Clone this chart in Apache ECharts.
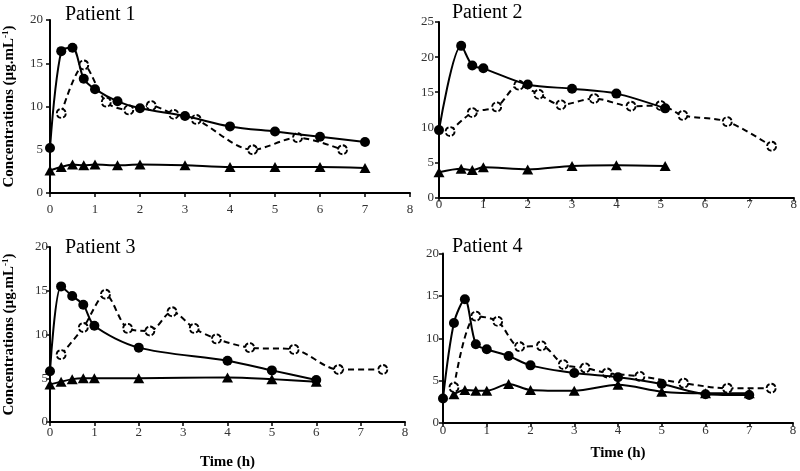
<!DOCTYPE html>
<html>
<head>
<meta charset="utf-8">
<script src="https://cdn.jsdelivr.net/npm/echarts@6/dist/echarts.min.js"></script>
<style>html,body{margin:0;padding:0;background:#fff}#c{width:800px;height:471px}</style>
</head>
<body>
<div id="c"></div>
<script>
// ---- Data ----
const p1FilledTime = [0,0.25,0.5,0.75,1,1.5,2,3,4,5,6,7];
const p1Filled     = [5.2,16.4,16.8,13.2,12.0,10.6,9.8,8.9,7.7,7.1,6.5,5.9];
const p1OpenTime   = [0.25,0.75,1.25,1.75,2.25,2.75,3.25,4.5,5.5,6.5];
const p1Open       = [9.2,14.8,10.5,9.6,10.1,9.1,8.5,5.0,6.4,5.0];
const p1TriTime    = [0,0.25,0.5,0.75,1,1.5,2,3,4,5,6,7];
const p1Tri        = [2.6,3.0,3.3,3.2,3.3,3.2,3.3,3.2,3.0,3.0,3.0,2.9];

const p2FilledTime = [0,0.5,0.75,1,2,3,4,5.1];
const p2Filled     = [9.6,21.6,18.8,18.4,16.1,15.5,14.8,12.7];
const p2OpenTime   = [0.25,0.75,1.3,1.8,2.25,2.75,3.5,4.33,5,5.5,6.5,7.5];
const p2Open       = [9.4,12.1,12.9,16.0,14.7,13.2,14.1,13.0,13.1,11.7,10.8,7.3];
const p2TriTime    = [0,0.5,0.75,1,2,3,4,5.1];
const p2Tri        = [3.6,4.1,3.9,4.3,4.0,4.5,4.6,4.5];

const p3FilledTime = [0,0.25,0.5,0.75,1,2,4,5,6];
const p3Filled     = [5.8,15.5,14.4,13.4,11.0,8.5,7.0,5.9,4.8];
const p3OpenTime   = [0.25,0.75,1.25,1.75,2.25,2.75,3.25,3.75,4.5,5.5,6.5,7.5];
const p3Open       = [7.7,10.8,14.6,10.7,10.4,12.6,10.7,9.5,8.5,8.3,6.0,6.0];
const p3TriTime    = [0,0.25,0.5,0.75,1,2,4,5,6];
const p3Tri        = [4.3,4.6,4.9,5.0,5.0,5.0,5.1,4.9,4.6];

const p4FilledTime = [0,0.25,0.5,0.75,1,1.5,2,3,4,5,6,7];
const p4Filled     = [2.9,11.8,14.6,9.3,8.7,7.9,6.8,5.9,5.4,4.6,3.4,3.3];
const p4OpenTime   = [0.25,0.75,1.25,1.75,2.25,2.75,3.25,3.75,4.5,5.5,6.5,7.5];
const p4Open       = [4.2,12.6,12.0,9.0,9.1,6.9,6.5,5.9,5.5,4.7,4.1,4.1];
const p4TriTime    = [0.25,0.5,0.75,1,1.5,2,3,4,5,6,7];
const p4Tri        = [3.4,3.9,3.8,3.8,4.6,3.9,3.8,4.5,3.7,3.5,3.5];

const titles = ['Patient 1','Patient 2','Patient 3','Patient 4'];
const yMax = [20,25,20,20];
const xTicksMax = 8;

// ---- Build ----
const FONT = "'Liberation Serif','Times New Roman',serif";
const zip = (t, v) => t.map((x, i) => [x, v[i]]);
const panels = [
  {f: zip(p1FilledTime,p1Filled), o: zip(p1OpenTime,p1Open), t: zip(p1TriTime,p1Tri)},
  {f: zip(p2FilledTime,p2Filled), o: zip(p2OpenTime,p2Open), t: zip(p2TriTime,p2Tri)},
  {f: zip(p3FilledTime,p3Filled), o: zip(p3OpenTime,p3Open), t: zip(p3TriTime,p3Tri)},
  {f: zip(p4FilledTime,p4Filled), o: zip(p4OpenTime,p4Open), t: zip(p4TriTime,p4Tri)}
];
const grids = [
  {left:48, top:20, width:362, height:173},
  {left:439, top:22, width:357, height:175.5},
  {left:48, top:247, width:357, height:176},
  {left:443, top:253.5, width:350, height:169.5}
];
const xLabelMargin = [10, 1, 4, 1];
const yLabelMargin = [7, 5, 2, 4];
const titlePos = [{left:60,top:0},{left:447,top:-2},{left:60,top:233},{left:447,top:232}];

const axisLine = {lineStyle:{color:'#000', width:2}};
const axisTick = {length:4, lineStyle:{color:'#000', width:1.5}};

const option = {
  backgroundColor:'#fff',
  animation:false,
  title: titles.map((t,i)=>({text:t, left:titlePos[i].left, top:titlePos[i].top,
    textStyle:{fontFamily:FONT, fontSize:20, fontWeight:'normal', color:'#000'}})),
  grid: grids,
  xAxis: grids.map((g,i)=>({
    type:'value', gridIndex:i, min:0, max:xTicksMax, interval:1,
    axisLine, axisTick, splitLine:{show:false},
    axisLabel:{fontFamily:FONT, fontSize:13, color:'#333', margin:xLabelMargin[i]},
    name: (i>=2) ? 'Time (h)' : '', nameLocation:'middle', nameGap: i===2 ? 33 : 23,
    nameTextStyle:{fontFamily:FONT, fontSize:15, fontWeight:'bold', color:'#000'}
  })),
  yAxis: grids.map((g,i)=>({
    type:'value', gridIndex:i, min:0, max:yMax[i], interval:5,
    axisLine:{show:true, lineStyle:{color:'#000', width:2}}, axisTick:{show:true, length:4, lineStyle:{color:'#000', width:1.5}},
    splitLine:{show:false},
    axisLabel:{fontFamily:FONT, fontSize:13, color:'#333', margin:yLabelMargin[i]},
    name: (i===0||i===2) ? '{n|Concentrations (µg.mL}{s|-1}{n|)}' : '',
    nameLocation:'middle', nameGap:32, nameRotate:90,
    nameTextStyle:{fontFamily:FONT, fontSize:15, fontWeight:'bold', color:'#000',
      rich:{n:{fontFamily:FONT, fontSize:15, fontWeight:'bold', color:'#000'},
            s:{fontFamily:FONT, fontSize:9, fontWeight:'bold', color:'#000', verticalAlign:'top', padding:[0,0,8,0]}}}
  })),
  series: []
};

panels.forEach((p,i)=>{
  option.series.push({
    type:'line', xAxisIndex:i, yAxisIndex:i, data:p.t, smooth:0.3,
    symbol:'triangle', symbolSize:[11,10],
    lineStyle:{color:'#000', width:2}, itemStyle:{color:'#000'}, z:2
  });
  option.series.push({
    type:'line', xAxisIndex:i, yAxisIndex:i, data:p.o, smooth:0.3,
    symbol:'circle', symbolSize:9,
    lineStyle:{color:'#000', width:2, type:[6,4]},
    itemStyle:{color:'#fff', borderColor:'#000', borderWidth:1.8, borderType:[5,2]}, z:3
  });
  option.series.push({
    type:'line', xAxisIndex:i, yAxisIndex:i, data:p.f, smooth:0.3,
    symbol:'circle', symbolSize:10,
    lineStyle:{color:'#000', width:2}, itemStyle:{color:'#000'}, z:4
  });
});

const chart = echarts.init(document.getElementById('c'), null, {renderer:'canvas'});
chart.setOption(option);
</script>
</body>
</html>
